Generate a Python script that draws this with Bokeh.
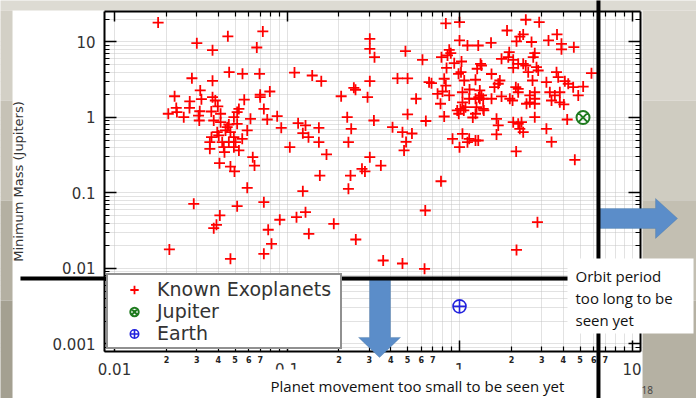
from bokeh.plotting import figure
from bokeh.models import (Range1d, FixedTicker, LogAxis, Legend, LegendItem, LabelSet, Label,
                          ColumnDataSource, BoxAnnotation, PolyAnnotation, Arrow)
from bokeh.embed import file_html
from bokeh.resources import INLINE
from bokeh.core.properties import value

# ---------------- data ----------------
semi_major_axis_au = [
    0.0179, 0.030, 0.0454, 0.0724, 0.037, 0.0668, 0.0281, 0.037, 0.0462, 0.0552,
    0.0693, 0.1105, 0.140, 0.158, 0.0314, 0.0223, 0.206, 0.0319, 0.037, 0.0384,
    0.0273, 0.0565, 0.0699, 0.0795, 0.0699, 0.0228, 0.0272, 0.0312, 0.0397, 0.0526,
    0.0734, 0.0205, 0.0230, 0.0252, 0.0307, 0.0310, 0.0364, 0.0412, 0.0514, 0.0492,
    0.0614, 0.0768, 0.0877, 0.0926, 0.116, 0.128, 0.1235, 0.153, 0.2234, 0.0376,
    0.0412, 0.046, 0.045, 0.044, 0.0514, 0.0588, 0.0394, 0.047, 0.0365, 0.0402,
    0.0492, 0.055, 0.0357, 0.0421, 0.046, 0.0503, 0.0357, 0.043, 0.0492, 0.0526,
    0.0434, 0.1038, 0.153, 0.227, 0.1694, 0.0406, 0.047, 0.0496, 0.0633, 0.0648,
    0.155, 0.2334, 0.0588, 0.1235, 0.227, 0.0288, 0.0514, 0.0734, 0.0408, 0.039,
    0.0376, 0.0908, 0.1135, 0.128, 0.0778, 0.1338, 0.1867, 0.0208, 0.047, 0.0734,
    0.0813, 0.2495, 0.244, 0.302, 0.302, 0.3215, 0.486, 0.61, 0.833, 1.0,
    1.0, 1.112, 1.284, 0.872, 0.89, 0.852, 0.786, 0.932, 1.027, 0.841,
    0.987, 1.02, 1.324, 1.266, 0.302, 0.437, 0.50, 0.666, 0.688, 0.815,
    0.833, 1.065, 1.238, 0.293, 0.56, 0.746, 0.797, 0.776, 0.872, 1.04,
    1.143, 1.04, 1.138, 1.238, 1.294, 1.372, 0.319, 0.50, 0.638, 0.815,
    0.97, 1.013, 0.99, 1.059, 1.083, 1.194, 1.238, 1.383, 0.409, 0.467,
    0.53, 0.911, 1.04, 1.138, 1.238, 0.49, 0.477, 1.0, 1.112, 0.302,
    0.35, 0.272, 0.283, 0.781, 0.633, 0.2505, 0.361, 0.467, 0.627, 0.2356,
    0.1332, 2.423, 2.897, 1.886, 2.34, 2.236, 3.674, 1.523, 2.14, 2.615,
    3.28, 3.90, 3.90, 4.60, 1.942, 1.917, 1.752, 2.048, 2.189, 2.34,
    2.42, 2.73, 2.675, 2.795, 2.858, 1.341, 2.048, 2.502, 3.65, 3.734,
    5.82, 1.533, 1.713, 1.677, 2.12, 2.65, 3.19, 4.08, 4.27, 4.56,
    5.21, 1.311, 1.341, 1.311, 1.533, 1.752, 1.957, 2.03, 2.189, 2.189,
    2.556, 2.73, 2.73, 2.446, 2.556, 2.73, 3.338, 3.569, 3.815, 3.415,
    3.815, 4.025, 4.88, 1.255, 1.372, 1.639, 1.677, 1.639, 2.048, 2.189,
    2.236, 2.34, 2.288, 2.73, 3.19, 4.21, 3.415, 1.284, 2.13, 4.66,
    2.83, 2.14, 1.595,
]
min_mass_mjup = [
    18.1, 9.64, 11.9, 13.8, 7.79, 8.46, 3.31, 3.06, 3.98, 3.79,
    3.79, 3.94, 3.60, 3.03, 2.28, 1.91, 1.91, 1.75, 1.86, 1.68,
    1.63, 1.72, 2.00, 2.21, 1.86, 1.34, 1.34, 1.21, 1.40, 1.30,
    1.30, 1.12, 1.18, 1.01, 1.06, 0.912, 1.20, 1.12, 1.18, 1.01,
    0.961, 0.941, 1.04, 0.730, 0.840, 0.784, 0.620, 0.730, 1.01, 0.912,
    0.866, 0.808, 0.744, 0.673, 0.825, 0.673, 0.639, 0.639, 0.548, 0.578,
    0.548, 0.522, 0.471, 0.471, 0.471, 0.471, 0.385, 0.404, 0.404, 0.366,
    0.347, 0.404, 0.471, 0.471, 0.324, 0.248, 0.224, 0.193, 0.298, 0.231,
    0.170, 0.170, 0.117, 0.1056, 0.1137, 0.0719, 0.0669, 0.0755, 0.0504, 0.0379,
    0.0342, 0.0442, 0.0478, 0.0557, 0.0326, 0.0288, 0.0391, 0.0179, 0.01344, 0.01566,
    0.02124, 2.33, 2.47, 11.0, 8.13, 6.29, 7.55, 5.81, 17.6, 18.3,
    10.5, 8.99, 8.99, 7.88, 7.11, 6.63, 6.29, 5.24, 5.52, 4.53,
    3.79, 3.98, 5.14, 4.42, 3.03, 3.29, 3.29, 2.94, 2.85, 3.26,
    2.65, 3.09, 3.16, 1.86, 1.77, 2.06, 2.21, 1.52, 1.96, 2.16,
    2.35, 1.59, 1.77, 1.77, 1.86, 1.77, 0.912, 1.10, 0.899, 1.03,
    1.24, 1.30, 1.12, 1.24, 1.37, 1.00, 1.12, 1.24, 0.744, 0.639,
    0.614, 0.522, 0.608, 0.522, 0.496, 0.474, 0.366, 0.404, 0.471, 0.298,
    0.231, 0.209, 0.193, 0.143, 0.0586, 0.0242, 0.01276, 0.01165, 0.0099, 0.708,
    0.548, 19.7, 18.3, 14.2, 12.6, 11.8, 12.6, 9.76, 10.2, 10.0,
    10.5, 9.47, 8.0, 8.53, 7.32, 6.29, 5.99, 5.81, 5.14, 5.14,
    4.88, 7.11, 6.29, 4.64, 4.19, 4.88, 4.55, 3.98, 3.98, 3.42,
    3.86, 3.77, 3.09, 2.80, 2.52, 3.09, 2.94, 3.03, 2.80, 2.52,
    2.57, 2.28, 1.96, 1.77, 1.77, 1.90, 1.77, 1.68, 2.40, 2.16,
    1.96, 2.16, 1.77, 1.52, 1.59, 1.52, 2.16, 1.96, 2.16, 1.68,
    1.59, 1.49, 1.96, 1.37, 1.30, 0.961, 0.784, 0.596, 0.866, 0.825,
    0.708, 0.639, 0.866, 1.01, 0.708, 0.941, 0.474, 0.496, 0.355, 0.275,
    0.0411, 0.0176, 2.52,
]
jupiter_au = [5.2]
jupiter_mjup = [1.0]
earth_au = [1.0]
earth_mjup = [0.00315]

x_major_ticks = [0.01, 0.1, 1.0, 10.0]
x_major_labels = ["0.01", "0.1", "1", "10"]
x_minor_ticks = [0.02, 0.03, 0.04, 0.05, 0.06, 0.07, 0.08, 0.09,
                 0.2, 0.3, 0.4, 0.5, 0.6, 0.7, 0.8, 0.9,
                 2.0, 3.0, 4.0, 5.0, 6.0, 7.0, 8.0, 9.0]
x_minor_label_pos = [0.02, 0.03, 0.04, 0.05, 0.06, 0.07,
                     0.2, 0.3, 0.4, 0.5, 0.6, 0.7,
                     2.0, 3.0, 4.0, 5.0, 6.0, 7.0]
x_minor_label_text = ["2", "3", "4", "5", "6", "7"] * 3

y_major_ticks = [0.001, 0.01, 0.1, 1.0, 10.0]
y_major_labels = ["0.001", "0.01", "0.1", "1", "10"]
y_minor_ticks = [0.0008, 0.0009,
                 0.002, 0.003, 0.004, 0.005, 0.006, 0.007, 0.008, 0.009,
                 0.02, 0.03, 0.04, 0.05, 0.06, 0.07, 0.08, 0.09,
                 0.2, 0.3, 0.4, 0.5, 0.6, 0.7, 0.8, 0.9,
                 2.0, 3.0, 4.0, 5.0, 6.0, 7.0, 8.0, 9.0, 20.0]

# chart box (axis extents) and whole-slide view
x_lo, x_hi = 0.00875, 11.2
y_lo, y_hi = 0.000796, 25.7
view_x = (0.002183, 23.65)
view_y = (0.0001896, 35.45)

# ---------------- figure ----------------
p = figure(width=696, height=398, x_axis_type="log", y_axis_type="log",
           x_range=Range1d(*view_x), y_range=Range1d(*view_y),
           min_border=0, min_border_left=0, min_border_right=0,
           min_border_top=0, min_border_bottom=0,
           output_backend="svg", toolbar_location=None,
           border_fill_color="white", background_fill_color="white")
p.outline_line_color = None

# ---------------- axes (fixed at the chart box edges) ----------------
def style_axis(ax, major_in, minor_in):
    ax.major_tick_in = major_in
    ax.major_tick_out = 0
    ax.minor_tick_in = minor_in
    ax.minor_tick_out = 0
    ax.axis_line_color = "black"
    ax.axis_line_width = 2
    ax.major_tick_line_color = "black"
    ax.major_tick_line_width = 1.5
    ax.minor_tick_line_color = "black"
    ax.minor_tick_line_width = 1.2

xax = p.xaxis[0]
xax.ticker = FixedTicker(ticks=x_major_ticks, minor_ticks=x_minor_ticks)
xax.major_label_overrides = dict(zip(x_major_ticks, x_major_labels))
xax.fixed_location = y_lo
xax.bounds = (x_lo, x_hi)
style_axis(xax, 11, 5)
xax.major_label_standoff = 12
xax.major_label_text_font = "DejaVu Sans"
xax.major_label_text_font_size = "15px"
xax.major_label_text_color = "#333333"

yax = p.yaxis[0]
yax.ticker = FixedTicker(ticks=y_major_ticks, minor_ticks=y_minor_ticks)
yax.major_label_overrides = dict(zip(y_major_ticks, y_major_labels))
yax.fixed_location = x_lo
yax.bounds = (y_lo, y_hi)
style_axis(yax, 12, 5)
yax.major_label_standoff = 9
yax.major_label_text_font = "DejaVu Sans"
yax.major_label_text_font_size = "15px"
yax.major_label_text_color = "#333333"
yax.axis_label = "Minimum Mass (Jupiters)"
yax.axis_label_text_font = "DejaVu Sans"
yax.axis_label_text_font_size = "13px"
yax.axis_label_text_font_style = "normal"
yax.axis_label_text_color = "#333333"
yax.axis_label_standoff = 24

top_ax = LogAxis(ticker=FixedTicker(ticks=x_major_ticks, minor_ticks=x_minor_ticks),
                 major_label_text_font_size="1px", major_label_text_alpha=0,
                 major_label_standoff=0, fixed_location=y_hi, bounds=(x_lo, x_hi))
style_axis(top_ax, 10, 5)
p.add_layout(top_ax, "above")
right_ax = LogAxis(ticker=FixedTicker(ticks=y_major_ticks, minor_ticks=y_minor_ticks),
                   major_label_text_font_size="1px", major_label_text_alpha=0,
                   major_label_standoff=0, fixed_location=x_hi, bounds=(y_lo, y_hi))
style_axis(right_ax, 12, 5)
p.add_layout(right_ax, "right")

for g in (p.xgrid[0], p.ygrid[0]):
    g.grid_line_color = "#c4c4c4"
    g.grid_line_dash = "1 1"
    g.grid_line_width = 1
    g.minor_grid_line_color = "#c4c4c4"
    g.minor_grid_line_dash = "1 1"
    g.minor_grid_line_width = 1

# ---------------- slide background outside the chart box ----------------
def box(l, r, b, t, color):
    p.add_layout(BoxAnnotation(left=l, right=r, bottom=b, top=t, fill_color=color,
                               fill_alpha=1, line_color=None, level="underlay"))

slide_top = 26.1          # top edge of the white slide
slide_left, slide_right = 0.002563, 11.51
box(x_lo / 10, x_lo, 1e-8, slide_top, "white")          # left of chart
box(x_hi, slide_right, 1e-8, slide_top, "white")        # sliver right of chart
box(x_lo, x_hi, 1e-8, y_lo, "white")                    # below chart
box(1e-6, 1e4, slide_top, 1e6, "#dddbd3")               # top band
band_edges = [slide_top, 1.68, 0.0796, 0.00377, 1e-8]
right_cols = ["#d9d6cd", "#cfccc1", "#c3bfb2", "#b5b1a3"]
left_cols = ["#d3d0c6", "#c6c2b6", "#b4b0a2", "#a4a091"]
for i in range(4):
    box(slide_right, 1e4, band_edges[i + 1], band_edges[i], right_cols[i])
    box(1e-6, slide_left, band_edges[i + 1], band_edges[i], left_cols[i])

# ---------------- data ----------------
r_exo = p.scatter(semi_major_axis_au, min_mass_mjup, marker="cross", size=11,
                  line_color="#ff0000", line_width=1.8)
r_jup = p.scatter(jupiter_au, jupiter_mjup, marker="circle_x", size=13,
                  line_color="#1e7b1e", fill_color=None, line_width=2)
r_earth = p.scatter(earth_au, earth_mjup, marker="circle_cross", size=13,
                    line_color="#2222dd", fill_color=None, line_width=1.6)

legend = Legend(items=[LegendItem(label="Known Exoplanets", renderers=[r_exo]),
                       LegendItem(label="Jupiter", renderers=[r_jup]),
                       LegendItem(label="Earth", renderers=[r_earth])],
                location=(106, 49), margin=0, padding=3, spacing=0,
                glyph_width=46, glyph_height=21, label_height=21, label_width=180,
                label_standoff=0, label_text_font="DejaVu Sans", label_text_font_size="19px",
                label_text_color="#333333", border_line_color="#222222", border_line_width=2,
                background_fill_color="white", background_fill_alpha=1)
p.add_layout(legend)

# minor x tick labels
minor_src = ColumnDataSource(dict(x=x_minor_label_pos, text=x_minor_label_text))
p.add_layout(LabelSet(x="x", y=y_lo, text="text", source=minor_src, y_offset=-5,
                      text_align="center", text_baseline="top",
                      text_font=value("DejaVu Sans"), text_font_size="8px",
                      text_font_style="bold", text_color="#222222"))

# blue block arrows
arrow_fill = "#5b8dc9"
p.add_layout(PolyAnnotation(xs=[6.39, 13.69, 13.69, 18.36, 13.69, 13.69, 6.39],
                            ys=[0.0623, 0.0623, 0.0846, 0.0460, 0.0250, 0.0339, 0.0339],
                            fill_color=arrow_fill, fill_alpha=1, line_color="#41719c", line_width=1))
p.add_layout(PolyAnnotation(xs=[0.301, 0.398, 0.398, 0.455, 0.3438, 0.2598, 0.301],
                            ys=[0.00737, 0.00737, 0.00122, 0.00122, 0.000663, 0.00122, 0.00122],
                            fill_color=arrow_fill, fill_alpha=1, line_color="#41719c", line_width=1))

# thick black limit lines
p.add_layout(Arrow(end=None, x_start=0.00285, y_start=0.00737, x_end=4.40, y_end=0.00737,
                   line_color="black", line_width=4))
p.add_layout(Arrow(end=None, x_start=6.39, y_start=1e-8, x_end=6.39, y_end=1e6,
                   line_color="black", line_width=4))

# slide text boxes
box_orbit = BoxAnnotation(left=4.228, right=22.73, bottom=0.001377, top=0.01357,
                          fill_color="white", fill_alpha=1, line_color=None)
p.add_layout(box_orbit)
p.add_layout(Label(x=4.704, y=0.01063, text="Orbit period\ntoo  long to be\nseen yet",
                   text_font="Open Sans", text_font_size="15px", text_color="#111111",
                   text_baseline="top", text_align="left", text_line_height=1.08))
box_move = BoxAnnotation(left=0.0750, right=5.90, bottom=1e-8, top=0.000460,
                         fill_color="white", fill_alpha=1, line_color=None)
p.add_layout(box_move)
p.add_layout(Label(x=0.0802, y=0.000274, text="Planet movement too small to be seen yet",
                   text_font="Open Sans", text_font_size="15px", text_color="#111111",
                   text_baseline="alphabetic", text_align="left"))
p.add_layout(Label(x=11.35, y=0.000242, text="18", text_font="Open Sans",
                   text_font_size="10px", text_color="#404040", text_baseline="alphabetic"))

open("out.html", "w").write(file_html(p, INLINE))
